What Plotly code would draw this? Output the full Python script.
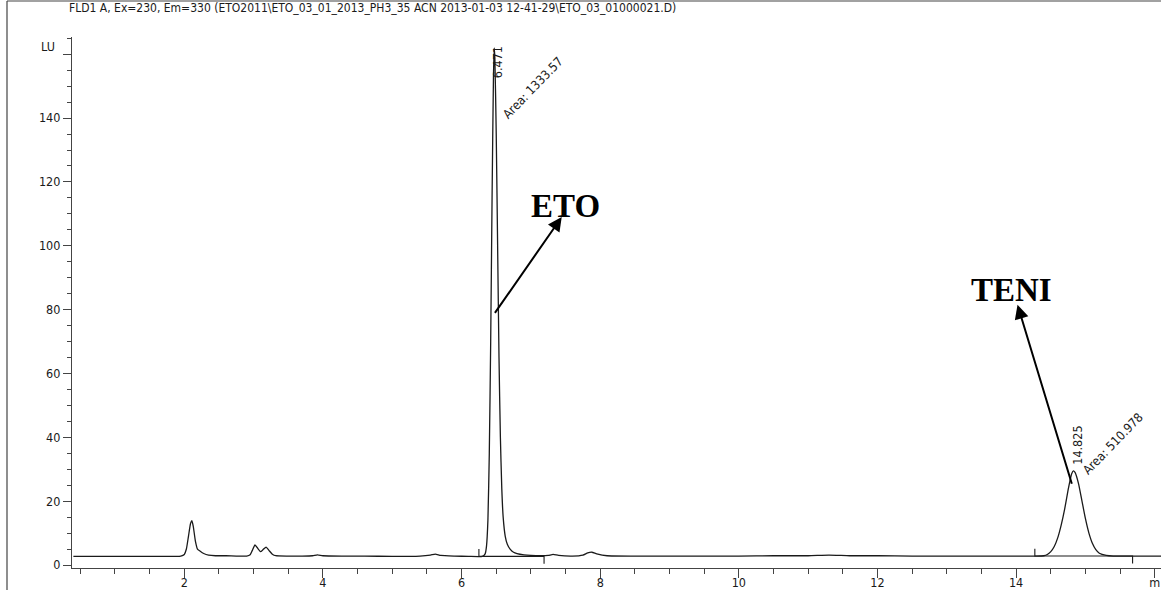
import plotly.graph_objects as go

# FLD chromatogram trace (retention time in min, signal in LU)
time_min = [0.40, 1.00, 1.50, 1.95, 2.00, 2.03, 2.06, 2.09, 2.11, 2.13, 2.16, 2.19,
            2.23, 2.28, 2.35, 2.45, 2.60, 2.75, 2.90, 2.95, 2.98, 3.02, 3.06, 3.10,
            3.14, 3.18, 3.22, 3.27, 3.32, 3.50, 3.70, 3.85, 3.92, 4.00, 4.30, 4.60,
            5.00, 5.40, 5.55, 5.62, 5.70, 5.90, 6.10, 6.30, 6.34, 6.36, 6.38, 6.40,
            6.42, 6.44, 6.46, 6.471, 6.48, 6.50, 6.52, 6.54, 6.56, 6.58, 6.60, 6.63,
            6.66, 6.70, 6.75, 6.80, 6.90, 7.00, 7.15, 7.25, 7.32, 7.40, 7.60, 7.75,
            7.82, 7.88, 7.95, 8.10, 8.50, 9.00, 9.50, 10.0, 10.5, 11.0, 11.3, 11.6,
            12.0, 12.5, 13.0, 13.5, 14.0, 14.30, 14.40, 14.45, 14.50, 14.55, 14.60,
            14.65, 14.70, 14.75, 14.80, 14.825, 14.85, 14.90, 14.95, 15.00, 15.05,
            15.10, 15.15, 15.20, 15.30, 15.40, 15.60, 15.80, 16.09]
signal_lu = [2.7, 2.7, 2.7, 2.8, 3.3, 5.0, 9.0, 13.0, 13.9, 12.0, 7.5, 5.0,
             4.3, 3.6, 3.1, 2.9, 2.9, 2.8, 2.8, 3.2, 4.5, 6.3, 5.2, 4.2,
             4.9, 5.6, 4.6, 3.4, 2.9, 2.8, 2.8, 2.9, 3.2, 2.9, 2.8, 2.8,
             2.7, 2.8, 3.1, 3.4, 3.0, 2.8, 2.7, 2.7, 3.5, 6.0, 14.0, 35.0,
             70.0, 115.0, 153.0, 162.0, 159.0, 135.0, 100.0, 65.0, 40.0, 24.0, 15.0, 9.0,
             6.5, 5.0, 4.0, 3.6, 3.2, 3.0, 2.9, 3.0, 3.3, 3.0, 2.8, 3.1,
             3.8, 4.0, 3.5, 2.9, 2.8, 2.8, 2.8, 2.8, 2.9, 2.9, 3.1, 2.9,
             2.9, 2.8, 2.8, 2.8, 2.8, 2.8, 2.9, 3.3, 4.2, 5.8, 8.5,
             12.5, 17.5, 23.5, 28.5, 29.5, 29.0, 25.5, 20.0, 14.5, 10.0,
             6.8, 4.8, 3.7, 3.0, 2.8, 2.8, 2.8, 2.8]

# Integrated peaks
peak_rt = [6.471, 14.825]
peak_area = [1333.57, 510.978]
peak_height = [162.0, 29.5]
int_start = [6.25, 14.27]
int_end = [7.19, 15.68]
int_level = [2.7, 2.8]
compound = ["ETO", "TENI"]

# Axis ticks
x_ticks = [2, 4, 6, 8, 10, 12, 14, 16]
x_tick_text = ["2", "4", "6", "8", "10", "12", "14", "m"]
y_ticks = [0, 20, 40, 60, 80, 100, 120, 140, 160]
y_tick_text = ["0", "20", "40", "60", "80", "100", "120", "140", ""]

title = ("FLD1 A, Ex=230, Em=330 (ETO2011\\ETO_03_01_2013_PH3_35 ACN "
         "2013-01-03 12-41-29\\ETO_03_01000021.D)")

NARROW = "Liberation Sans Narrow, Arial Narrow, DejaVu Sans Condensed, sans-serif"
SERIF = "Liberation Serif, Times New Roman, serif"
INK = "#1a1a1a"
AX = "#444444"

# plot-area geometry in pixels
W, H = 1161, 590
L, R, T, B = 72, 0, 37, 22
PW, PH = W - L - R, H - T - B


def px_x(px):
    return (px - L) / PW


def px_y(py):
    return (H - B - py) / PH


fig = go.Figure()

fig.add_trace(go.Scatter(
    x=time_min, y=signal_lu, mode="lines",
    line=dict(color=INK, width=1.3, shape="spline", smoothing=0.5),
    hoverinfo="skip", showlegend=False,
))

# integration baselines with start (up) and end (down) marks
bx, by = [], []
for s, e, lv in zip(int_start, int_end, int_level):
    bx += [s, s, e, e, None]
    by += [lv + 2.3, lv, lv, lv - 2.3, None]
fig.add_trace(go.Scatter(
    x=bx, y=by, mode="lines", line=dict(color=INK, width=1.1),
    hoverinfo="skip", showlegend=False,
))

ann = []
# retention time and area labels
rt_offset = [(0.04, -4.5), (0.06, 8.0)]
area_offset = [(0.56, -12.5), (0.57, 8.5)]
for rt, h, ar, ro, ao in zip(peak_rt, peak_height, peak_area, rt_offset, area_offset):
    ann.append(dict(x=rt + ro[0], y=h + ro[1], text=f"{rt:.3f}", textangle=-90,
                    showarrow=False, font=dict(family=NARROW, size=12.5, color=INK)))
    ann.append(dict(x=rt + ao[0], y=h + ao[1], text=f"Area: {ar:g}", textangle=-46,
                    showarrow=False, font=dict(family=NARROW, size=12.5, color=INK)))

# compound names with arrows pointing to their labels
name_pos = [(7.50, 112.5), (13.93, 86.0)]
arrow_tip = [(7.445, 109.0), (14.02, 81.5)]
arrow_tail = [(6.466, 78.5), (14.81, 25.0)]
for name, (nx, ny), (tx, ty), (sx, sy) in zip(compound, name_pos, arrow_tip, arrow_tail):
    ann.append(dict(x=nx, y=ny, text=f"<b>{name}</b>", showarrow=False,
                    font=dict(family=SERIF, size=33, color="#000")))
    ann.append(dict(x=tx, y=ty, ax=sx, ay=sy, xref="x", yref="y", axref="x", ayref="y",
                    text="", showarrow=True, arrowhead=2, arrowsize=1.4,
                    arrowwidth=2, arrowcolor="#000"))

# title and unit label
ann.append(dict(x=px_x(372), y=px_y(8), xref="paper", yref="paper", text=title,
                showarrow=False, xanchor="center", yanchor="middle",
                font=dict(family=NARROW, size=12, color=INK)))
ann.append(dict(x=px_x(48), y=px_y(47), xref="paper", yref="paper",
                text="LU", showarrow=False, xanchor="center", yanchor="middle",
                font=dict(family=NARROW, size=12.5, color=INK)))

# outer frame (left and top edges)
frame = dict(type="line", xref="paper", yref="paper", line=dict(color=AX, width=1.2))
shapes = [
    dict(frame, x0=px_x(7), x1=px_x(7), y0=px_y(H), y1=px_y(1)),
    dict(frame, x0=px_x(7), x1=px_x(W), y0=px_y(1), y1=px_y(1)),
]

axis_common = dict(
    showline=True, linecolor=AX, linewidth=1.2, ticks="outside", tickcolor=AX,
    tickwidth=1.2, tickmode="array", showgrid=False, zeroline=False, automargin=False,
    ticklabeloverflow="allow", tickfont=dict(family=NARROW, size=12.5, color=INK),
)

fig.update_layout(
    width=W, height=H,
    margin=dict(l=L, r=R, t=T, b=B, autoexpand=False),
    paper_bgcolor="white", plot_bgcolor="white",
    annotations=ann, shapes=shapes,
    xaxis=dict(axis_common, range=[0.38, 16.09], ticklen=9, ticklabelstandoff=-6,
               tickvals=x_ticks, ticktext=x_tick_text,
               minor=dict(dtick=0.5, tick0=0, ticks="outside", ticklen=5,
                          tickcolor=AX, tickwidth=1.1, showgrid=False)),
    yaxis=dict(axis_common, range=[-0.94, 165.4], ticklen=8,
               tickvals=y_ticks, ticktext=y_tick_text,
               minor=dict(dtick=5, tick0=0, ticks="outside", ticklen=4,
                          tickcolor=AX, tickwidth=1.1, showgrid=False)),
)

fig.write_html("out.html")
